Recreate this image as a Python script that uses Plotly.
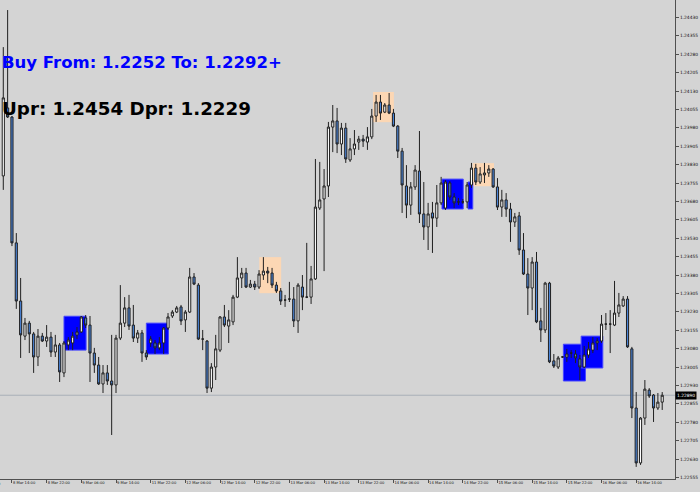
import plotly.graph_objects as go

# ---- data (EURUSD H1, 8 Mar 12:00 -> 16 Mar 20:00) ----
opens = [1.23784, 1.24061, 1.24024, 1.23511, 1.23274, 1.23131, 1.23184, 1.23140, 1.23046, 1.23131,
         1.23111, 1.23127, 1.23066, 1.23095, 1.22981, 1.23095, 1.23103, 1.23136, 1.23148, 1.23205,
         1.23176, 1.23062, 1.23013, 1.22936, 1.22981, 1.22948, 1.22932, 1.23123, 1.23184, 1.23246,
         1.23176, 1.23123, 1.23144, 1.23062, 1.23103, 1.23103, 1.23083, 1.23103, 1.23164, 1.23213,
         1.23229, 1.23250, 1.23197, 1.23229, 1.23372, 1.23339, 1.23119, 1.23111, 1.22919, 1.23005,
         1.23074, 1.23209, 1.23172, 1.23189, 1.23290, 1.23368, 1.23388, 1.23331, 1.23343, 1.23331,
         1.23380, 1.23396, 1.23388, 1.23339, 1.23315, 1.23278, 1.23282, 1.23282, 1.23193, 1.23331,
         1.23290, 1.23290, 1.23364, 1.23653, 1.23690, 1.23743, 1.23983, 1.24008, 1.23914, 1.23979,
         1.23849, 1.23894, 1.23922, 1.23934, 1.23922, 1.23943, 1.24028, 1.24085, 1.24044, 1.24073,
         1.24040, 1.23987, 1.23885, 1.23743, 1.23665, 1.23739, 1.23804, 1.23629, 1.23576, 1.23633,
         1.23612, 1.23674, 1.23653, 1.23755, 1.23698, 1.23678, 1.23678, 1.23678, 1.23747, 1.23816,
         1.23759, 1.23788, 1.23796, 1.23812, 1.23739, 1.23657, 1.23686, 1.23649, 1.23596, 1.23621,
         1.23482, 1.23384, 1.23327, 1.23433, 1.23193, 1.23156, 1.23347, 1.23030, 1.23005, 1.23046,
         1.23046, 1.23062, 1.23058, 1.23038, 1.23005, 1.23054, 1.23074, 1.23103, 1.23111, 1.23180,
         1.23180, 1.23176, 1.23225, 1.23254, 1.23282, 1.23079, 1.22838, 1.22614, 1.22797, 1.22911,
         1.22891, 1.22838, 1.22862]
highs = [1.24309, 1.24460, 1.24028, 1.23551, 1.23368, 1.23205, 1.23193, 1.23148, 1.23160, 1.23144,
         1.23176, 1.23148, 1.23136, 1.23103, 1.23111, 1.23127, 1.23148, 1.23168, 1.23213, 1.23217,
         1.23213, 1.23083, 1.23046, 1.23013, 1.23013, 1.23136, 1.23136, 1.23339, 1.23290, 1.23299,
         1.23258, 1.23156, 1.23156, 1.23074, 1.23131, 1.23115, 1.23127, 1.23168, 1.23225, 1.23237,
         1.23254, 1.23258, 1.23237, 1.23409, 1.23388, 1.23347, 1.23156, 1.23115, 1.23021, 1.23136,
         1.23213, 1.23258, 1.23237, 1.23299, 1.23453, 1.23409, 1.23409, 1.23360, 1.23356, 1.23400,
         1.23453, 1.23413, 1.23409, 1.23352, 1.23327, 1.23299, 1.23352, 1.23331, 1.23347, 1.23380,
         1.23511, 1.23417, 1.23853, 1.23841, 1.23812, 1.24004, 1.24073, 1.24061, 1.24000, 1.24000,
         1.23938, 1.23971, 1.23947, 1.23951, 1.23983, 1.24057, 1.24114, 1.24114, 1.24081, 1.24122,
         1.24057, 1.23991, 1.23898, 1.23828, 1.23759, 1.23828, 1.23967, 1.23759, 1.23674, 1.23678,
         1.23747, 1.23780, 1.23767, 1.23763, 1.23714, 1.23694, 1.23690, 1.23759, 1.23837, 1.23833,
         1.23820, 1.23837, 1.23828, 1.23816, 1.23775, 1.23727, 1.23714, 1.23674, 1.23633, 1.23637,
         1.23551, 1.23449, 1.23453, 1.23474, 1.23246, 1.23352, 1.23352, 1.23058, 1.23050, 1.23050,
         1.23079, 1.23074, 1.23074, 1.23054, 1.23091, 1.23107, 1.23127, 1.23123, 1.23217, 1.23225,
         1.23237, 1.23356, 1.23307, 1.23294, 1.23294, 1.23087, 1.22903, 1.22801, 1.22952, 1.22919,
         1.22895, 1.22899, 1.22903]
lows = [1.23727, 1.24020, 1.23498, 1.23242, 1.23042, 1.23115, 1.23062, 1.22981, 1.23009, 1.23107,
        1.23087, 1.23046, 1.23046, 1.22944, 1.22964, 1.23074, 1.23074, 1.23119, 1.23144, 1.23164,
        1.22944, 1.22981, 1.22932, 1.22899, 1.22932, 1.22728, 1.22899, 1.23115, 1.23168, 1.23156,
        1.23107, 1.23103, 1.23026, 1.23034, 1.23087, 1.23058, 1.23074, 1.23058, 1.23156, 1.23205,
        1.23225, 1.23176, 1.23148, 1.23225, 1.23339, 1.23115, 1.23074, 1.22899, 1.22903, 1.22952,
        1.23066, 1.23168, 1.23103, 1.23176, 1.23286, 1.23327, 1.23327, 1.23327, 1.23319, 1.23323,
        1.23360, 1.23347, 1.23327, 1.23307, 1.23258, 1.23250, 1.23270, 1.23168, 1.23144, 1.23237,
        1.23286, 1.23262, 1.23360, 1.23645, 1.23396, 1.23698, 1.23881, 1.23877, 1.23869, 1.23837,
        1.23841, 1.23869, 1.23890, 1.23902, 1.23890, 1.23934, 1.24004, 1.24012, 1.24040, 1.24036,
        1.23983, 1.23857, 1.23633, 1.23612, 1.23625, 1.23727, 1.23592, 1.23523, 1.23482, 1.23470,
        1.23576, 1.23665, 1.23645, 1.23686, 1.23653, 1.23665, 1.23670, 1.23653, 1.23735, 1.23747,
        1.23751, 1.23755, 1.23780, 1.23735, 1.23645, 1.23617, 1.23617, 1.23515, 1.23576, 1.23462,
        1.23380, 1.23217, 1.23237, 1.23184, 1.23107, 1.23144, 1.23021, 1.23001, 1.22997, 1.23042,
        1.23026, 1.23042, 1.23021, 1.22952, 1.23001, 1.23042, 1.23062, 1.23074, 1.23103, 1.23156,
        1.23062, 1.23172, 1.23209, 1.23250, 1.23083, 1.22797, 1.22598, 1.22606, 1.22769, 1.22879,
        1.22781, 1.22830, 1.22830]
closes = [1.24102, 1.24024, 1.23511, 1.23274, 1.23136, 1.23184, 1.23140, 1.23046, 1.23131, 1.23111,
          1.23127, 1.23066, 1.23095, 1.22985, 1.23103, 1.23115, 1.23131, 1.23148, 1.23209, 1.23176,
          1.23062, 1.23013, 1.22936, 1.22981, 1.22948, 1.22932, 1.23123, 1.23184, 1.23246, 1.23172,
          1.23123, 1.23144, 1.23062, 1.23046, 1.23119, 1.23083, 1.23103, 1.23164, 1.23209, 1.23229,
          1.23246, 1.23193, 1.23229, 1.23372, 1.23343, 1.23119, 1.23119, 1.22919, 1.23005, 1.23079,
          1.23209, 1.23176, 1.23197, 1.23290, 1.23368, 1.23388, 1.23331, 1.23343, 1.23331, 1.23384,
          1.23396, 1.23388, 1.23339, 1.23315, 1.23274, 1.23278, 1.23282, 1.23193, 1.23339, 1.23290,
          1.23290, 1.23364, 1.23657, 1.23686, 1.23743, 1.23983, 1.24008, 1.23914, 1.23979, 1.23853,
          1.23894, 1.23914, 1.23934, 1.23926, 1.23943, 1.24028, 1.24085, 1.24040, 1.24073, 1.24040,
          1.23987, 1.23885, 1.23747, 1.23665, 1.23739, 1.23808, 1.23629, 1.23576, 1.23629, 1.23612,
          1.23674, 1.23755, 1.23759, 1.23698, 1.23674, 1.23678, 1.23678, 1.23747, 1.23816, 1.23759,
          1.23792, 1.23796, 1.23812, 1.23739, 1.23657, 1.23686, 1.23649, 1.23596, 1.23617, 1.23482,
          1.23384, 1.23327, 1.23433, 1.23189, 1.23156, 1.23347, 1.23026, 1.23009, 1.23042, 1.23046,
          1.23058, 1.23062, 1.23042, 1.23005, 1.23054, 1.23079, 1.23103, 1.23111, 1.23180, 1.23180,
          1.23180, 1.23225, 1.23258, 1.23282, 1.23087, 1.22838, 1.22614, 1.22797, 1.22915, 1.22887,
          1.22838, 1.22862, 1.22890]

# time-axis labels (bar index -> label)
tick_idx = [2, 10, 18, 26, 34, 42, 50, 58, 66, 74, 82, 90, 98, 106, 114, 122, 130, 138, 146]
tick_text = ["8 Mar 14:00", "8 Mar 22:00", "9 Mar 06:00", "9 Mar 14:00", "11 Mar 22:00",
             "12 Mar 06:00", "12 Mar 14:00", "12 Mar 22:00", "13 Mar 06:00", "13 Mar 14:00",
             "13 Mar 22:00", "14 Mar 06:00", "14 Mar 14:00", "14 Mar 22:00", "15 Mar 06:00",
             "15 Mar 14:00", "15 Mar 22:00", "16 Mar 06:00", "16 Mar 14:00"]

# price-axis labels
price_ticks = [round(1.22555 + 0.00075 * k, 5) for k in range(26)]
price_text = ["%.5f" % v for v in price_ticks]

# zones (bar index start/end, price high/low)
blue_x0 = [14.0, 33.0, 101.2, 107.2, 129.2, 133.3]
blue_x1 = [19.1, 38.1, 106.1, 108.3, 134.3, 138.3]
blue_hi = [1.23212, 1.23184, 1.23771, 1.23759, 1.23098, 1.23131]
blue_lo = [1.23074, 1.23058, 1.23649, 1.23649, 1.22948, 1.23001]
peach_x0 = [59.05, 85.3, 108.3]
peach_x1 = [64.1, 90.1, 113.2]
peach_hi = [1.23453, 1.24126, 1.23836]
peach_lo = [1.23306, 1.24003, 1.23742]

current_price = 1.22890
buy_text = "Buy From: 1.2252 To: 1.2292+"
range_text = "Upr: 1.2454 Dpr: 1.2229"

BG = "#D4D4D4"
AX = "#505050"
TXT = "#101010"

x = list(range(len(opens)))

fig = go.Figure()
fig.add_trace(go.Candlestick(
    x=x, open=opens, high=highs, low=lows, close=closes,
    increasing=dict(fillcolor="#FFFFFF", line=dict(color="#202020", width=1)),
    decreasing=dict(fillcolor="#4A84D8", line=dict(color="#202020", width=1)),
    whiskerwidth=0, hoverinfo="skip", showlegend=False,
))

shapes = []
for a, b, hi, lo in zip(peach_x0, peach_x1, peach_hi, peach_lo):
    shapes.append(dict(type="rect", xref="x", yref="y", x0=a, x1=b, y0=lo, y1=hi,
                       fillcolor="#FCD7B4", line=dict(width=0), layer="below"))
for a, b, hi, lo in zip(blue_x0, blue_x1, blue_hi, blue_lo):
    shapes.append(dict(type="rect", xref="x", yref="y", x0=a, x1=b, y0=lo, y1=hi,
                       fillcolor="#0000FF", line=dict(width=1, color="#4848FF"), layer="below"))
shapes.append(dict(type="line", xref="paper", yref="y", x0=0, x1=1, y0=current_price, y1=current_price,
                   line=dict(color="#A8B0B8", width=1), layer="below"))

annotations = [
    dict(xref="paper", yref="paper", x=0, y=1 - 62.5 / 479, xanchor="left", yanchor="middle",
         text=buy_text, showarrow=False,
         font=dict(family="DejaVu Sans", size=16.5, color="#0000FF", weight="bold")),
    dict(xref="paper", yref="paper", x=0, y=1 - 108.5 / 479, xanchor="left", yanchor="middle",
         text=range_text, showarrow=False,
         font=dict(family="DejaVu Sans", size=18.3, color="#000000", weight="bold")),
    dict(xref="paper", yref="y", x=1, y=current_price, xanchor="left", yanchor="middle",
         text="%.5f" % current_price, showarrow=False, bgcolor="#000000", borderpad=1, xshift=0,
         font=dict(family="DejaVu Sans", size=4.4, color="#FFFFFF")),
    dict(xref="paper", yref="paper", x=2.6 / 675, y=0, xanchor="right", yanchor="top", yshift=-1,
         text="8 Mar 06:00", showarrow=False,
         font=dict(family="DejaVu Sans", size=3.7, color=TXT)),
]

fig.update_layout(
    width=700, height=492, autosize=False,
    margin=dict(l=0, r=25, t=0, b=13, pad=0, autoexpand=False),
    paper_bgcolor=BG, plot_bgcolor=BG, showlegend=False,
    shapes=shapes, annotations=annotations,
    xaxis=dict(range=[-0.76, 154.95], rangeslider=dict(visible=False), showgrid=False,
               zeroline=False, showline=True, linecolor=AX, linewidth=1,
               ticks="outside", ticklen=3, tickcolor=AX, tickwidth=1, tickangle=0,
               automargin=False,
               tickmode="array", tickvals=tick_idx, ticktext=tick_text,
               ticklabelposition="outside right",
               tickfont=dict(family="DejaVu Sans", size=3.7, color=TXT), fixedrange=True),
    yaxis=dict(side="right", range=[1.225486, 1.24501], showgrid=False, zeroline=False,
               showline=True, linecolor=AX, linewidth=1, ticks="outside", ticklen=3,
               tickcolor=AX, tickwidth=1, tickmode="array", tickvals=price_ticks,
               automargin=False,
               ticktext=price_text, tickfont=dict(family="DejaVu Sans", size=4.4, color=TXT),
               fixedrange=True),
)

fig.write_html("out.html", config={"displayModeBar": False},
               post_script="document.body.style.margin='0';document.body.style.background='%s';" % BG)
